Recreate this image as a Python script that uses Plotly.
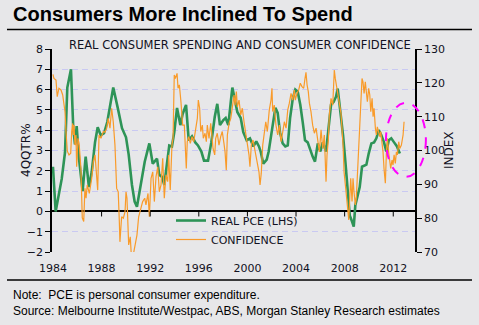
import plotly.graph_objects as go

# ---------------- data ----------------
pce_year = [1984.00, 1984.22, 1984.72, 1984.99, 1985.18, 1985.32, 1985.48, 1985.67, 1985.81, 1985.95,
            1986.14, 1986.44, 1986.69, 1986.96, 1987.19, 1987.46, 1987.68, 1987.93, 1988.20, 1988.47,
            1988.69, 1988.96, 1989.33, 1989.68, 1990.01, 1990.23, 1990.50, 1990.72, 1990.91, 1991.19,
            1991.55, 1991.93, 1992.21, 1992.56, 1992.75, 1992.97, 1993.16, 1993.38, 1993.57, 1993.79,
            1993.98, 1994.21, 1994.48, 1994.67, 1994.95, 1995.17, 1995.44, 1995.71, 1995.93, 1996.21,
            1996.43, 1996.76, 1997.03, 1997.31, 1997.52, 1997.74, 1998.02, 1998.21, 1998.43, 1998.63,
            1998.76, 1998.95, 1999.17, 1999.45, 1999.66, 1999.94, 2000.21, 2000.49, 2000.73, 2000.95,
            2001.09, 2001.31, 2001.59, 2001.75, 2002.02, 2002.30, 2002.49, 2002.68, 2002.90, 2003.12,
            2003.32, 2003.51, 2003.73, 2003.94, 2004.14, 2004.35, 2004.55, 2004.74, 2004.96, 2005.18,
            2005.37, 2005.56, 2005.79, 2006.00, 2006.20, 2006.47, 2006.66, 2006.88, 2007.10, 2007.29,
            2007.43, 2007.68, 2007.87, 2008.06, 2008.22, 2008.42, 2008.61, 2008.75, 2008.88, 2009.05,
            2009.24, 2009.43, 2009.60, 2009.79, 2009.98, 2010.20, 2010.42, 2010.61, 2010.81, 2011.02,
            2011.24, 2011.43, 2011.63, 2011.84, 2012.07, 2012.31, 2012.54]
pce_val = [2.2, 0.0, 1.6, 2.9, 6.1, 6.5, 7.0, 4.1, 3.3, 4.2,
           2.6, 1.0, 2.7, 1.2, 1.95, 3.4, 4.15, 3.75, 3.85, 4.4,
           5.2, 6.1, 5.1, 4.1, 3.65, 2.8, 1.3, 0.48, 0.23, 1.3,
           2.45, 3.35, 2.35, 2.6, 1.8, 1.7, 1.3, 2.35, 3.25, 3.2,
           3.9, 5.1, 4.25, 4.8, 5.25, 3.5, 3.7, 3.4, 3.25, 2.95,
           2.5, 2.5, 3.4, 4.65, 5.3, 4.25, 4.5, 4.6, 4.25, 5.4,
           6.1, 5.55, 4.9, 4.6, 3.9, 3.5, 3.6, 3.2, 3.45, 3.2,
           2.95, 2.35, 2.55, 2.95, 4.1, 5.1, 4.85, 3.9, 3.35, 3.2,
           3.25, 4.6, 5.55, 6.0, 5.9, 5.25, 4.4, 3.5, 3.4, 3.0,
           2.7, 2.45, 3.35, 2.95, 3.4, 2.95, 4.1, 5.25, 5.4, 5.65,
           6.05, 4.9, 3.75, 2.45, 1.15, -0.2, -0.5, -0.75, 0.3, 0.7,
           1.2, 2.2, 2.25, 2.3, 2.85, 3.35, 3.4, 3.6, 4.0, 3.75,
           3.4, 2.95, 3.5, 3.6, 3.4, 3.2, 2.85]

conf_year = [1984.00, 1984.08, 1984.25, 1984.35, 1984.49, 1984.66, 1984.80, 1984.91, 1984.99, 1985.07,
             1985.18, 1985.32, 1985.46, 1985.54, 1985.62, 1985.67, 1985.73, 1985.81, 1985.89, 1985.95,
             1986.06, 1986.16, 1986.30, 1986.41, 1986.53, 1986.63, 1986.72, 1986.82, 1986.99, 1987.19,
             1987.32, 1987.46, 1987.54, 1987.68, 1987.79, 1987.95, 1988.14, 1988.28, 1988.42, 1988.55,
             1988.69, 1988.83, 1988.96, 1989.10, 1989.24, 1989.37, 1989.46, 1989.51, 1989.65, 1989.79,
             1989.93, 1990.01, 1990.09, 1990.17, 1990.23, 1990.36, 1990.44, 1990.60, 1990.77, 1990.91,
             1991.05, 1991.19, 1991.38, 1991.55, 1991.65, 1991.82, 1991.93, 1992.07, 1992.21, 1992.34,
             1992.48, 1992.62, 1992.75, 1992.89, 1993.03, 1993.16, 1993.30, 1993.44, 1993.52, 1993.65,
             1993.79, 1993.88, 1993.98, 1994.07, 1994.21, 1994.29, 1994.40, 1994.53, 1994.67, 1994.81,
             1994.89, 1994.97, 1995.05, 1995.17, 1995.30, 1995.44, 1995.58, 1995.74, 1995.88, 1995.96,
             1996.07, 1996.16, 1996.29, 1996.37, 1996.51, 1996.62, 1996.70, 1996.84, 1996.98, 1997.06,
             1997.17, 1997.31, 1997.39, 1997.52, 1997.66, 1997.80, 1997.93, 1998.07, 1998.16, 1998.26,
             1998.35, 1998.49, 1998.63, 1998.71, 1998.81, 1998.90, 1998.98, 1999.09, 1999.17, 1999.31,
             1999.45, 1999.58, 1999.72, 1999.86, 1999.99, 2000.13, 2000.21, 2000.32, 2000.46, 2000.60,
             2000.73, 2000.81, 2000.95, 2001.04, 2001.14, 2001.26, 2001.37, 2001.51, 2001.64, 2001.80,
             2001.94, 2002.02, 2002.08, 2002.21, 2002.35, 2002.49, 2002.63, 2002.77, 2002.91, 2003.04,
             2003.18, 2003.32, 2003.45, 2003.59, 2003.73, 2003.86, 2003.94, 2004.08, 2004.22, 2004.35,
             2004.49, 2004.63, 2004.74, 2004.82, 2004.91, 2005.01, 2005.10, 2005.23, 2005.37, 2005.51,
             2005.65, 2005.79, 2005.92, 2006.06, 2006.20, 2006.33, 2006.41, 2006.47, 2006.55, 2006.66,
             2006.74, 2006.88, 2007.02, 2007.15, 2007.23, 2007.35, 2007.46, 2007.56, 2007.70, 2007.87,
             2007.95, 2008.06, 2008.14, 2008.22, 2008.34, 2008.42, 2008.50, 2008.61, 2008.69, 2008.77,
             2008.88, 2008.96, 2009.05, 2009.16, 2009.24, 2009.32, 2009.43, 2009.51, 2009.60, 2009.70,
             2009.79, 2009.87, 2009.98, 2010.07, 2010.15, 2010.26, 2010.34, 2010.42, 2010.53, 2010.61,
             2010.69, 2010.81, 2010.89, 2010.97, 2011.08, 2011.16, 2011.24, 2011.35, 2011.43, 2011.51,
             2011.63, 2011.71, 2011.79, 2011.90, 2011.98, 2012.07, 2012.17, 2012.26, 2012.34, 2012.45,
             2012.54, 2012.67, 2012.81, 2012.89]
conf_val = [122.5, 121.3, 120.8, 115.9, 118.4, 117.9, 116.4, 114.0, 111.5, 105.6,
            99.8, 98.7, 99.2, 105.6, 108.0, 104.6, 107.5, 101.6, 104.6, 95.2,
            103.6, 101.6, 94.7, 80.1, 79.0, 88.8, 85.9, 89.8, 87.3, 91.8,
            96.7, 98.7, 95.7, 88.3, 104.6, 103.6, 105.6, 105.4, 106.6, 109.5,
            106.6, 112.5, 108.5, 101.6, 88.8, 87.8, 79.0, 73.0, 80.4, 80.0,
            81.9, 87.8, 85.9, 76.0, 72.1, 74.5, 69.5, 69.0, 72.1, 75.0,
            80.4, 82.4, 84.9, 85.9, 83.9, 87.3, 80.4, 91.8, 93.7, 84.9,
            92.3, 95.2, 87.8, 89.8, 97.7, 85.9, 92.8, 90.8, 98.7, 88.3,
            101.6, 103.6, 122.3, 121.3, 122.8, 118.4, 119.4, 114.4, 107.5, 107.5,
            98.2, 94.7, 102.6, 104.1, 102.1, 104.1, 102.6, 106.6, 109.5, 114.9,
            112.5, 105.6, 107.5, 103.6, 105.1, 102.6, 107.5, 103.6, 108.0, 105.1,
            100.6, 98.7, 103.6, 105.1, 101.6, 104.1, 105.6, 102.1, 99.6, 94.2,
            104.6, 108.0, 109.5, 111.5, 114.4, 116.4, 113.4, 117.4, 112.9, 114.9,
            110.5, 112.5, 108.5, 105.1, 101.6, 98.7, 95.2, 101.6, 103.1, 100.1,
            97.7, 95.7, 93.7, 89.8, 93.3, 101.6, 105.6, 108.5, 105.6, 112.0,
            114.9, 118.4, 111.5, 113.4, 107.5, 104.6, 107.5, 102.6, 105.6, 108.5,
            106.6, 112.0, 114.0, 116.9, 114.9, 117.9, 114.9, 116.9, 117.9, 119.9,
            118.9, 118.4, 121.3, 123.1, 119.4, 117.4, 114.0, 111.5, 107.5, 105.1,
            106.6, 102.6, 99.6, 106.1, 100.6, 104.6, 95.7, 90.8, 98.7, 103.1,
            110.5, 115.4, 113.4, 123.8, 121.3, 118.4, 115.4, 114.4, 111.0, 101.6,
            93.7, 89.8, 87.3, 84.9, 79.5, 85.9, 91.8, 84.9, 91.8, 87.8,
            83.9, 85.9, 92.3, 98.7, 105.6, 113.4, 121.3, 120.3, 116.9, 120.3,
            117.9, 114.4, 118.4, 116.4, 111.5, 115.4, 110.0, 112.5, 106.6, 104.6,
            107.0, 105.6, 104.1, 105.6, 102.1, 99.6, 94.7, 90.3, 98.7, 103.6,
            99.2, 96.2, 94.7, 97.2, 95.7, 98.7, 96.2, 99.6, 98.7, 102.6,
            100.6, 101.6, 104.6, 108.5]

year_ticks = [1984, 1988, 1992, 1996, 2000, 2004, 2008, 2012]
left_ticks = [-2, -1, 0, 1, 2, 3, 4, 5, 6, 7, 8]
right_ticks = [70, 80, 90, 100, 110, 120, 130]

# ---------------- figure ----------------
BG = "#E7E7E9"
TXT = "#111122"
GREEN = "#2E9457"
ORANGE = "#F99B2A"
FONT = "DejaVu Sans"

fig = go.Figure()
fig.add_trace(go.Scatter(x=conf_year, y=conf_val, mode="lines", name="CONFIDENCE",
                         line=dict(color=ORANGE, width=1.2), yaxis="y2", legendrank=2))
fig.add_trace(go.Scatter(x=pce_year, y=pce_val, mode="lines", name="REAL PCE (LHS)",
                         line=dict(color=GREEN, width=2.6), yaxis="y", legendrank=1))

shapes = []
# tick marks hanging below the zero line
for yr in year_ticks[1:]:
    shapes.append(dict(type="line", xref="x", yref="y", x0=yr, x1=yr, y0=0, y1=-0.25,
                       line=dict(color="black", width=1)))
# title rule and footer rule
shapes.append(dict(type="line", xref="paper", yref="paper", x0=-0.124, x1=1.157,
                   y0=(252 - 29.5) / 203, y1=(252 - 29.5) / 203, line=dict(color="black", width=1.5)))
shapes.append(dict(type="line", xref="paper", yref="paper", x0=-0.124, x1=1.157,
                   y0=(252 - 280) / 203, y1=(252 - 280) / 203, line=dict(color="black", width=1.5)))
# magenta dashed ellipse highlight
shapes.append(dict(type="circle", xref="paper", yref="paper", x0=0.92, x1=1.03, y0=0.37, y1=0.735,
                   line=dict(color="#FF00FF", width=2, dash="dash")))

annotations = [
    dict(text="<b>Consumers More Inclined To Spend</b>", xref="paper", yref="paper",
         x=(11 - 52) / 363, y=(252 - 14) / 203, xanchor="left", yanchor="middle", showarrow=False,
         font=dict(family="Liberation Sans", size=20, color="black")),
    dict(text="REAL CONSUMER SPENDING AND CONSUMER CONFIDENCE", xref="paper", yref="paper",
         x=(240 - 52) / 363, y=(252 - 45) / 203, xanchor="center", yanchor="middle", showarrow=False,
         font=dict(family=FONT, size=11.5, color=TXT)),
    dict(text="4QQTR%", xref="paper", yref="paper", x=(26 - 52) / 363, y=(252 - 150) / 203,
         xanchor="center", yanchor="middle", textangle=-90, showarrow=False,
         font=dict(family=FONT, size=12, color=TXT)),
    dict(text="INDEX", xref="paper", yref="paper", x=(449 - 52) / 363, y=(252 - 150) / 203,
         xanchor="center", yanchor="middle", textangle=-90, showarrow=False,
         font=dict(family=FONT, size=12, color=TXT)),
    dict(text="Note:  PCE is personal consumer expenditure.<br>Source: Melbourne Institute/Westpac, ABS, Morgan Stanley Research estimates",
         xref="paper", yref="paper", x=(11 - 52) / 363, y=(252 - 303) / 203, xanchor="left",
         yanchor="middle", align="left", showarrow=False,
         font=dict(family="Liberation Sans", size=12, color="black")),
]

fig.update_layout(
    width=479, height=325,
    margin=dict(l=52, r=64, t=49, b=73),
    paper_bgcolor=BG, plot_bgcolor=BG,
    showlegend=True,
    legend=dict(x=(171 - 52) / 363, y=(252 - 206) / 203, xanchor="left", yanchor="top",
                bgcolor="rgba(0,0,0,0)", font=dict(family=FONT, size=11, color=TXT),
                tracegroupgap=2, itemwidth=30),
    xaxis=dict(range=[1983.92, 2013.79], tickvals=year_ticks, ticktext=[str(y) for y in year_ticks],
               showgrid=False, zeroline=False, showline=False, ticks="outside", ticklen=6,
               tickcolor="rgba(0,0,0,0)", tickfont=dict(family=FONT, size=11, color=TXT)),
    yaxis=dict(range=[-2, 8], tickvals=left_ticks, showgrid=True, gridcolor="#C9C9F2",
               griddash="6px,4px", gridwidth=1, zeroline=True, zerolinecolor="black", zerolinewidth=1.5,
               showline=True, linecolor="black", linewidth=1.5, ticks="outside", ticklen=5,
               tickcolor="black", tickfont=dict(family=FONT, size=11, color=TXT)),
    yaxis2=dict(range=[70, 130], tickvals=right_ticks, overlaying="y", side="right", showgrid=False,
                zeroline=False, showline=True, linecolor="black", linewidth=1.5, ticks="outside",
                ticklen=5, tickcolor="black", tickfont=dict(family=FONT, size=11, color=TXT)),
    shapes=shapes,
    annotations=annotations,
)

fig.write_html("out.html")
